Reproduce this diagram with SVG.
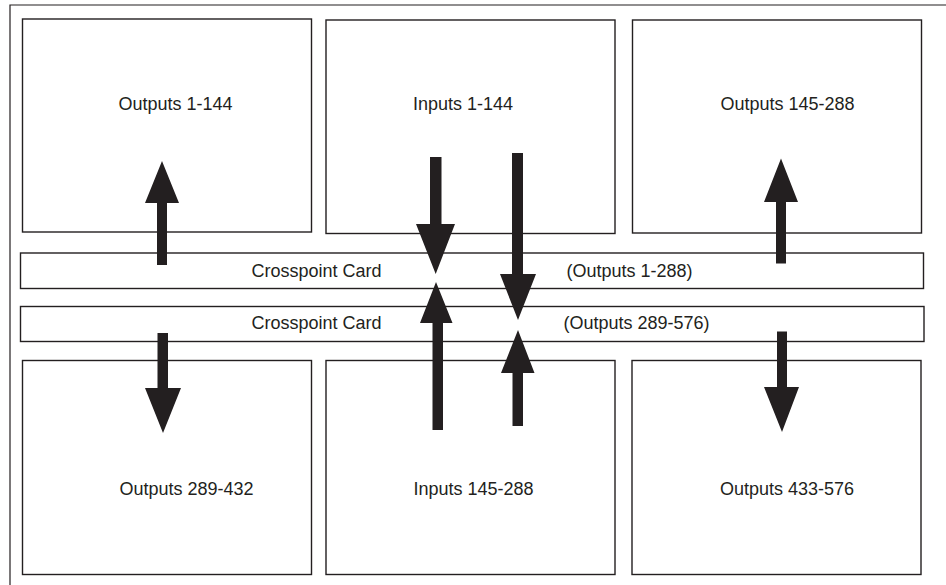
<svg xmlns="http://www.w3.org/2000/svg" width="946" height="585" viewBox="0 0 946 585">
<style>
.box{fill:none;stroke:#231f20;stroke-width:1.4}
.lbl{font-family:"Liberation Sans",Arial,sans-serif;font-size:18px;fill:#231f20}
.arr{fill:#231f20;stroke:none}
</style>
<rect width="946" height="585" fill="#ffffff"/>
<g id="frame"><path d="M10,585 V5 H946" fill="none" stroke="#231f20" stroke-width="1.2"/></g>
<g id="out1"><rect class="box" x="22.5" y="19" width="289" height="213"/><text class="lbl" x="175.5" y="110" text-anchor="middle">Outputs 1-144</text></g>
<g id="in1"><rect class="box" x="326" y="20" width="289" height="213.5"/><text class="lbl" x="463" y="110" text-anchor="middle">Inputs 1-144</text></g>
<g id="out2"><rect class="box" x="632.5" y="20" width="289" height="213"/><text class="lbl" x="787.5" y="110" text-anchor="middle">Outputs 145-288</text></g>
<g id="card1"><rect class="box" x="20.5" y="253" width="903" height="35.5"/><text class="lbl" x="316.5" y="277" text-anchor="middle">Crosspoint Card</text><text class="lbl" x="629.5" y="277" text-anchor="middle">(Outputs 1-288)</text></g>
<g id="card2"><rect class="box" x="20.5" y="306.5" width="903.5" height="35"/><text class="lbl" x="316.5" y="328.5" text-anchor="middle">Crosspoint Card</text><text class="lbl" x="636.5" y="328.5" text-anchor="middle">(Outputs 289-576)</text></g>
<g id="out3"><rect class="box" x="22.5" y="360.5" width="289" height="214"/><text class="lbl" x="186.5" y="495" text-anchor="middle">Outputs 289-432</text></g>
<g id="in2"><rect class="box" x="326" y="360.5" width="289" height="214"/><text class="lbl" x="473.5" y="495" text-anchor="middle">Inputs 145-288</text></g>
<g id="out4"><rect class="box" x="632" y="360.5" width="289" height="214"/><text class="lbl" x="787" y="495" text-anchor="middle">Outputs 433-576</text></g>
<g id="connectors">
<polygon class="arr" points="157,265 167,265 167,203 179,203 162,161 145,203 157,203"/>
<polygon class="arr" points="776,263.5 786,263.5 786,202 798,202 781,158.5 764,202 776,202"/>
<polygon class="arr" points="157.5,333 168,333 168,388 181,388 163,433 145,388 157.5,388"/>
<polygon class="arr" points="777,331.5 787,331.5 787,387 799,387 782,432 764,387 777,387"/>
<polygon class="arr" points="430,157 441.5,157 441.5,224 455,224 435.7,274 416,224 430,224"/>
<polygon class="arr" points="512,153 523,153 523,274 536,274 518,320 500,274 512,274"/>
<polygon class="arr" points="432.5,430 443,430 443,323 452.5,323 436,282 420,323 432.5,323"/>
<polygon class="arr" points="512.5,426 523,426 523,373 534.5,373 518,330 501,373 512.5,373"/>
</g>
</svg>
